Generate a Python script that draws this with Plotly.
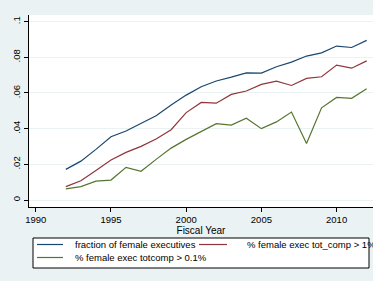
import plotly.graph_objects as go

years = list(range(1992, 2013))
frac_female_exec = [0.0172, 0.0218, 0.0284, 0.0355, 0.0387, 0.0430, 0.0472, 0.0532, 0.0588,
                    0.0635, 0.0667, 0.0689, 0.0713, 0.0711, 0.0747, 0.0773, 0.0807, 0.0825,
                    0.0863, 0.0855, 0.0895]
pct_totcomp_1 = [0.0075, 0.0108, 0.0166, 0.0224, 0.0267, 0.0301, 0.0342, 0.0394, 0.0490,
                 0.0547, 0.0543, 0.0592, 0.0611, 0.0648, 0.0666, 0.0642, 0.0682, 0.0691,
                 0.0756, 0.0739, 0.0780]
pct_totcomp_01 = [0.0063, 0.0075, 0.0106, 0.0112, 0.0183, 0.0161, 0.0228, 0.0291, 0.0340,
                  0.0383, 0.0428, 0.0420, 0.0459, 0.0400, 0.0438, 0.0493, 0.0317, 0.0517,
                  0.0575, 0.0570, 0.0624]

series_names = ["fraction of female executives",
                "% female exec tot_comp > 1%",
                "% female exec totcomp > 0.1%"]
series_colors = ["#1a476f", "#90353b", "#55752f"]

y_tickvals = [0, 0.02, 0.04, 0.06, 0.08, 0.1]
y_ticktext = ["0", ".02", ".04", ".06", ".08", ".1"]
x_tickvals = [1990, 1995, 2000, 2005, 2010]
x_title = "Fiscal Year"

font_family = "Liberation Sans, Arial, sans-serif"

W, H = 373, 281
ML, MR, MT, MB = 29, 0, 15, 74
PW, PH = W - ML - MR, H - MT - MB


def px_x(p):
    return (p - ML) / PW


def px_y(p):
    return (H - MB - p) / PH


fig = go.Figure()
for name, vals, col in zip(series_names, [frac_female_exec, pct_totcomp_1, pct_totcomp_01], series_colors):
    fig.add_trace(go.Scatter(x=years, y=vals, mode="lines", name=name,
                             line=dict(color=col, width=1.2), showlegend=False))

# manual legend (Stata-style box, 2 columns)
shapes = [dict(type="rect", xref="paper", yref="paper",
               x0=px_x(33), x1=px_x(369), y0=px_y(268), y1=px_y(238),
               line=dict(color="#000000", width=1), fillcolor="#ffffff", layer="above")]
annotations = []
slots = [(37, 63, 73, 244.5), (199, 227, 245, 244.5), (37, 63, 73, 257.5)]
for (lx0, lx1, tx, ty), name, col in zip(slots, series_names, series_colors):
    shapes.append(dict(type="line", xref="paper", yref="paper",
                       x0=px_x(lx0), x1=px_x(lx1), y0=px_y(ty), y1=px_y(ty),
                       line=dict(color=col, width=1.2), layer="above"))
    annotations.append(dict(text=name, xref="paper", yref="paper",
                            x=px_x(tx), y=px_y(ty), xanchor="left", yanchor="middle",
                            showarrow=False, font=dict(family=font_family, size=9.5, color="#000000")))

fig.update_layout(
    width=W, height=H,
    margin=dict(l=ML, r=MR, t=MT, b=MB),
    paper_bgcolor="#eaf2f3",
    plot_bgcolor="#ffffff",
    font=dict(family=font_family, size=9.5, color="#000000"),
    showlegend=False,
    shapes=shapes,
    annotations=annotations,
)
fig.update_xaxes(
    range=[1989.55, 2012.42],
    tickvals=x_tickvals,
    ticks="outside", ticklen=4, tickcolor="#000000", tickwidth=1,
    showline=True, linecolor="#000000", linewidth=1,
    showgrid=False, zeroline=False,
    title=dict(text=x_title, standoff=1, font=dict(size=10)),
    tickfont=dict(size=9.5),
)
fig.update_yaxes(
    range=[-0.0039, 0.1037],
    tickvals=y_tickvals, ticktext=y_ticktext,
    tickangle=-90,
    ticks="outside", ticklen=4, tickcolor="#000000", tickwidth=1,
    showline=True, linecolor="#000000", linewidth=1,
    showgrid=True, gridcolor="#eaf2f3", gridwidth=1,
    zeroline=False,
    tickfont=dict(size=9.5),
)

fig.write_html("out.html", config={"displayModeBar": False},
               post_script="document.body.style.margin='0';")
